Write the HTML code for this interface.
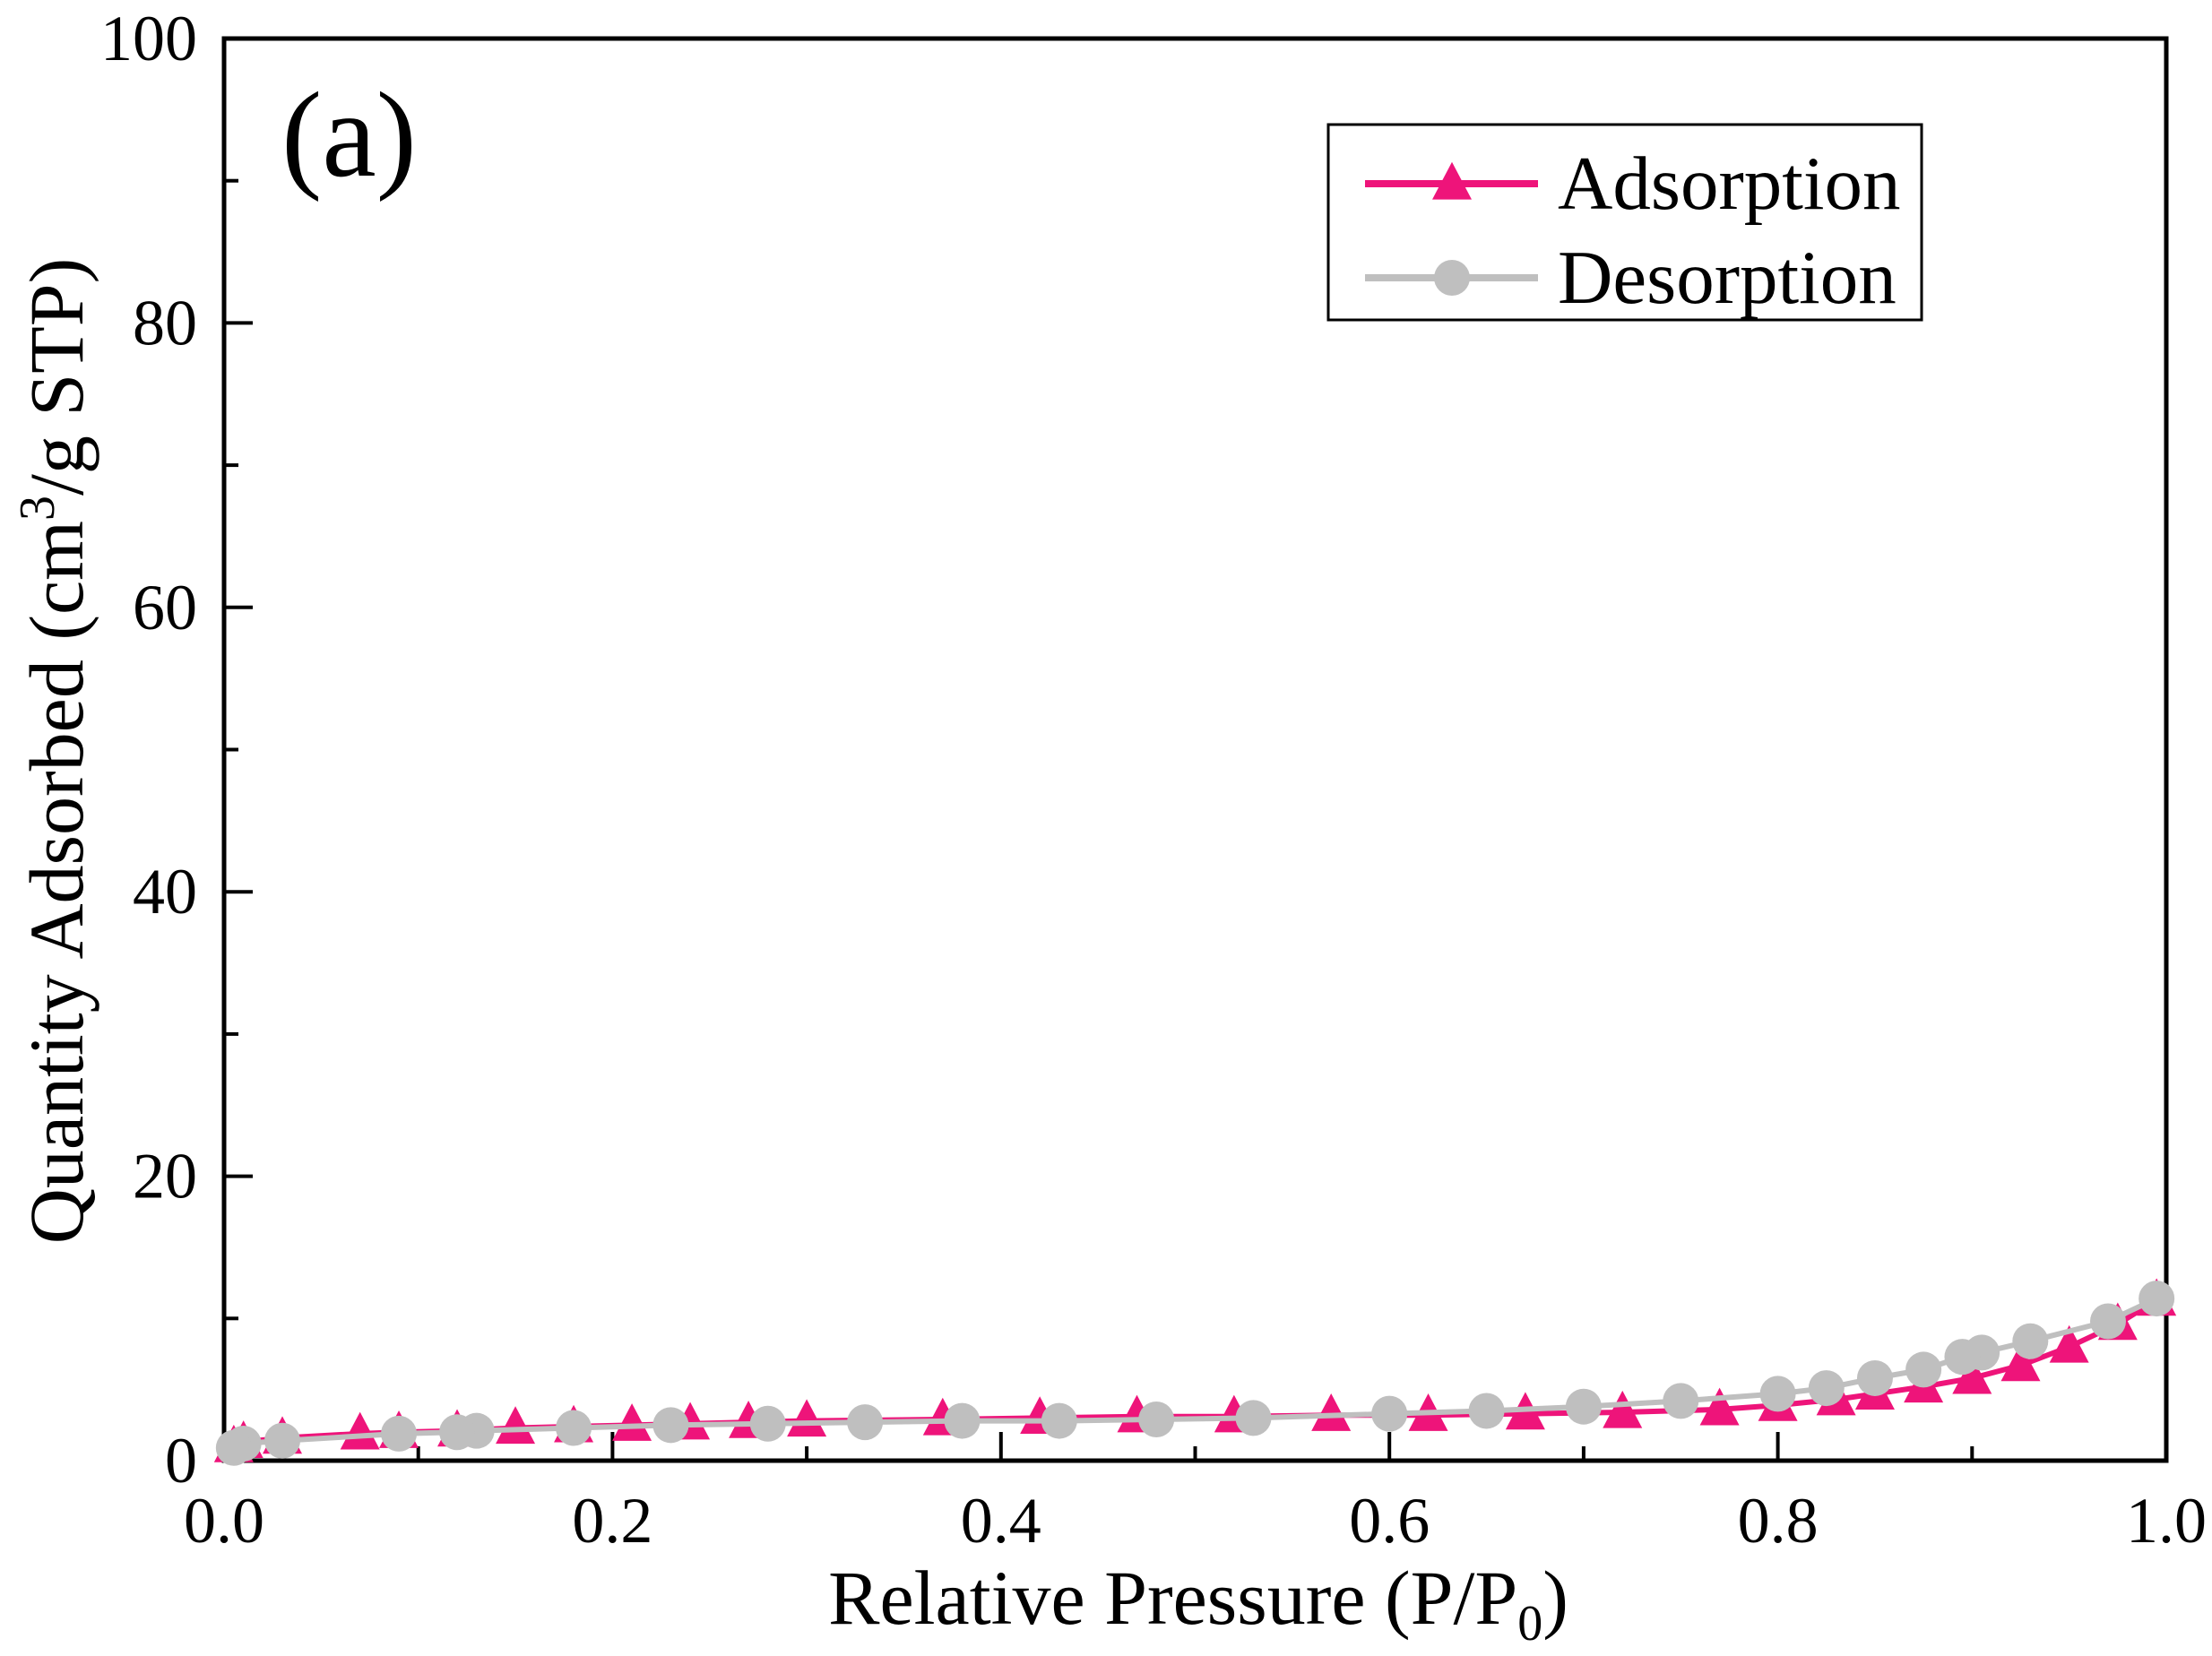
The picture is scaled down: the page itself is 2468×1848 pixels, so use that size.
<!DOCTYPE html>
<html><head><meta charset="utf-8"><style>
html,body{margin:0;padding:0;background:#fff;}
svg{display:block;font-family:"Liberation Serif",serif;}
</style></head><body>
<svg id="chart" width="2468" height="1848" viewBox="0 0 2468 1848" xmlns="http://www.w3.org/2000/svg"></svg>
<script>
const adsX=[0.005,0.01,0.03,0.07,0.09,0.12,0.15,0.18,0.21,0.24,0.27,0.30,0.37,0.42,0.47,0.52,0.57,0.62,0.67,0.72,0.77,0.80,0.83,0.85,0.875,0.90,0.925,0.95,0.975,0.995];
const adsY=[1.0,1.3,1.6,1.9,2.0,2.1,2.3,2.4,2.5,2.6,2.7,2.8,2.9,3.0,3.1,3.1,3.2,3.2,3.3,3.4,3.6,3.9,4.3,4.7,5.2,5.8,6.7,8.0,9.6,11.3];
const desX=[0.995,0.97,0.93,0.905,0.895,0.875,0.85,0.825,0.80,0.75,0.70,0.65,0.60,0.53,0.48,0.43,0.38,0.33,0.28,0.23,0.18,0.13,0.12,0.09,0.03,0.01,0.005];
const desY=[11.4,9.8,8.4,7.6,7.3,6.4,5.8,5.1,4.7,4.2,3.8,3.5,3.3,3.0,2.9,2.8,2.8,2.7,2.6,2.5,2.3,2.1,2.0,1.9,1.4,1.2,0.9];
const xTicks=[0,0.2,0.4,0.6,0.8,1.0];
const xTickLabels=["0.0","0.2","0.4","0.6","0.8","1.0"];
const yTicks=[0,20,40,60,80,100];
const yTickLabels=["0","20","40","60","80","100"];

const L=250,R=2417,T=43,B=1630;
const sx=v=>L+(R-L)*v;
const sy=v=>B-(B-T)*v/100;
const NS="http://www.w3.org/2000/svg";
const svg=document.getElementById('chart');
function mk(tag,attrs,parent){const e=document.createElementNS(NS,tag);for(const k in attrs)e.setAttribute(k,attrs[k]);(parent||svg).appendChild(e);return e;}

const frame=mk('rect',{x:L,y:T,width:R-L,height:B-T,fill:'none',stroke:'#000','stroke-width':5});



for(let i=0;i<=10;i++){const v=i/10;const major=i%2===0;
 const t=mk('line',{x1:sx(v),x2:sx(v),y1:B,y2:B-(major?32:16),stroke:'#000','stroke-width':4});
 
 }
xTicks.forEach((v,i)=>{const t=mk('text',{x:sx(v),y:1721,'font-size':72,'text-anchor':'middle',fill:'#000'});t.textContent=xTickLabels[i];
 
 });
for(let i=0;i<=10;i++){const v=i*10;const major=i%2===0;
 const t=mk('line',{x1:L,x2:L+(major?32:16),y1:sy(v),y2:sy(v),stroke:'#000','stroke-width':4});
 
 }
yTicks.forEach((v,i)=>{const t=mk('text',{x:220,y:sy(v)+24,'font-size':72,'text-anchor':'end',fill:'#000'});t.textContent=yTickLabels[i];
 
 });

const xt=mk('text',{x:1337,y:1812,'font-size':86,'text-anchor':'middle',fill:'#000'});
xt.innerHTML='Relative Pressure (P/P<tspan font-size="56" dy="18">0</tspan><tspan dy="-18">)</tspan>';


const yt=mk('text',{x:0,y:0,'font-size':86,'text-anchor':'middle',fill:'#000',transform:'translate(92,838) rotate(-90)'});
yt.innerHTML='Quantity Adsorbed (cm<tspan font-size="56" dy="-32">3</tspan><tspan dy="32">/g STP)</tspan>';



const pl=mk('text',{x:314,y:196,'font-size':136,fill:'#000'});pl.textContent='(a)';



const PINK='#ee147a',GRAY='#bfbfbf';
function tri(cx,cy,s,fill,parent){return mk('polygon',{points:`${cx},${cy-s*0.55} ${cx-s*0.5},${cy+s*0.4} ${cx+s*0.5},${cy+s*0.4}`,fill:fill},parent);}

const gA=mk('g',{});


const pa=mk('polyline',{points:adsX.map((x,i)=>sx(x)+','+sy(adsY[i])).join(' '),fill:'none',stroke:PINK,'stroke-width':6},gA);


adsX.forEach((x,i)=>{const m=tri(sx(x),sy(adsY[i]),44,PINK,gA);
 
 });

const gD=mk('g',{});


const pd=mk('polyline',{points:desX.map((x,i)=>sx(x)+','+sy(desY[i])).join(' '),fill:'none',stroke:GRAY,'stroke-width':6},gD);


desX.forEach((x,i)=>{const m=mk('circle',{cx:sx(x),cy:sy(desY[i]),r:20,fill:GRAY},gD);
 
 });

const lg=mk('g',{});


mk('rect',{x:1482,y:139,width:662,height:218,fill:'#fff',stroke:'#000','stroke-width':3},lg);
const e1=mk('g',{},lg);


mk('line',{x1:1523,x2:1716,y1:205,y2:205,stroke:PINK,'stroke-width':8},e1);
tri(1620,205,44,PINK,e1);
const t1=mk('text',{x:1738,y:233,'font-size':85,fill:'#000'},e1);t1.textContent='Adsorption';
const e2=mk('g',{},lg);


mk('line',{x1:1523,x2:1716,y1:310,y2:310,stroke:GRAY,'stroke-width':8},e2);
mk('circle',{cx:1620,cy:310,r:20,fill:GRAY},e2);
const t2=mk('text',{x:1738,y:338,'font-size':85,fill:'#000'},e2);t2.textContent='Desorption';
</script>
</body></html>
